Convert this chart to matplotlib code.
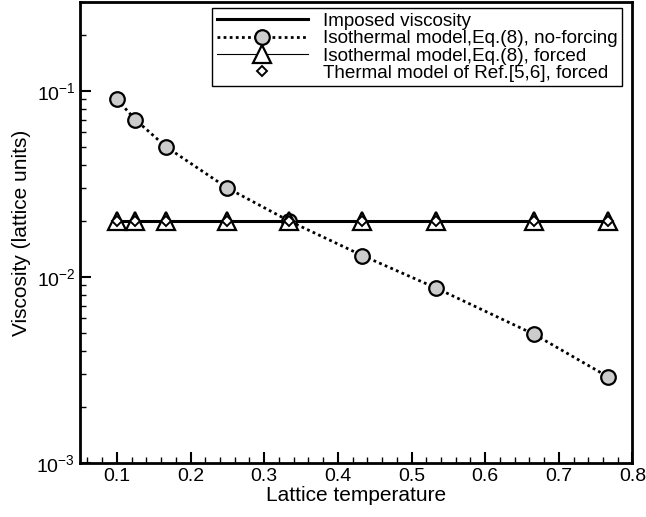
import matplotlib.pyplot as plt
from matplotlib.ticker import LogLocator, MultipleLocator, NullFormatter

plt.rcParams.update({
    "font.family": ["Liberation Sans", "DejaVu Sans"],
    "mathtext.fontset": "custom",
    "mathtext.rm": "Liberation Sans",
    "font.size": 14,
})

# lattice temperatures of the simulations
temperature = [0.1, 0.125, 0.1667, 0.25, 0.3333, 0.4333, 0.5333, 0.6667, 0.7667]
# measured viscosities
visc_noforce = [0.090, 0.070, 0.050, 0.030, 0.020, 0.0130, 0.0087, 0.0049, 0.0029]
visc_forced = [0.020, 0.020, 0.020, 0.020, 0.020, 0.020, 0.020, 0.020, 0.020]
visc_thermal = [0.020, 0.020, 0.020, 0.020, 0.020, 0.020, 0.020, 0.020, 0.020]
imposed_x = [0.1, 0.7667]
imposed_visc = [0.02, 0.02]

fig = plt.figure(figsize=(6.46, 5.17), dpi=100)
ax = fig.add_axes([0.124, 0.105, 0.855, 0.891])

ax.plot(imposed_x, imposed_visc, color="black", lw=2.2, label="Imposed viscosity", zorder=2)
ax.plot(temperature, visc_noforce, color="black", ls=(0, (1, 1.2)), lw=2.0, marker="o",
        ms=10.5, mfc="#cccccc", mec="black", mew=1.6,
        label="Isothermal model,Eq.(8), no-forcing", zorder=3)
ax.plot(temperature, visc_forced, color="black", lw=0.8, marker="^", ms=13,
        mfc="white", mec="black", mew=1.6,
        label="Isothermal model,Eq.(8), forced", zorder=4)
ax.plot(temperature, visc_thermal, ls="none", marker="D", ms=5.5,
        mfc="white", mec="black", mew=1.4,
        label="Thermal model of Ref.[5,6], forced", zorder=5)

ax.set_yscale("log")
ax.set_xlim(0.05, 0.8)
ax.set_ylim(1e-3, 0.3)
ax.xaxis.set_major_locator(MultipleLocator(0.1))
ax.xaxis.set_minor_locator(MultipleLocator(0.02))
ax.yaxis.set_major_locator(LogLocator(base=10, numticks=10))
ax.yaxis.set_minor_locator(LogLocator(base=10, subs=range(2, 10), numticks=20))
ax.yaxis.set_minor_formatter(NullFormatter())
ax.set_xticks([0.1, 0.2, 0.3, 0.4, 0.5, 0.6, 0.7, 0.8])
ax.set_xticklabels(["0.1", "0.2", "0.3", "0.4", "0.5", "0.6", "0.7", "0.8"])

ax.tick_params(which="major", direction="in", length=8, width=1.5, labelsize=14)
ax.tick_params(which="minor", direction="in", length=4, width=1.0)
for spine in ax.spines.values():
    spine.set_linewidth(2)

ax.set_xlabel("Lattice temperature", fontsize=15, labelpad=1)
ax.set_ylabel("Viscosity (lattice units)", fontsize=15, labelpad=4)

leg = ax.legend(loc="upper right", bbox_to_anchor=(0.988, 0.995), fontsize=13.6,
                handlelength=4.8, handletextpad=0.8, labelspacing=0.0,
                borderpad=0.25, borderaxespad=0.2, fancybox=False, framealpha=1)
leg.get_frame().set_edgecolor("black")
leg.get_frame().set_linewidth(1.0)

fig.savefig("out.png", dpi=100)
